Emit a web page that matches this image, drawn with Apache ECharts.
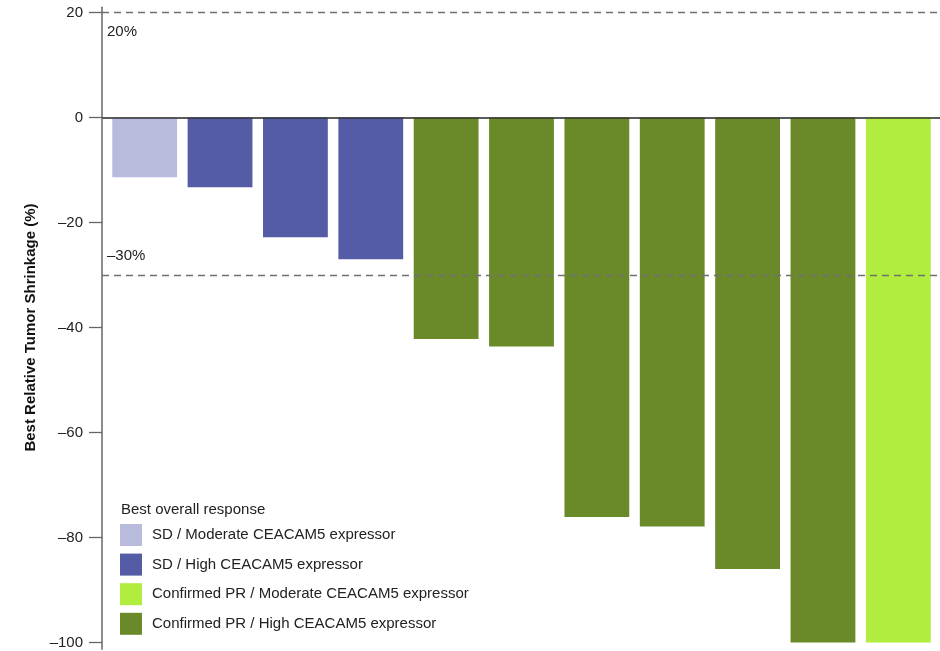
<!DOCTYPE html>
<html>
<head>
<meta charset="utf-8">
<style>
  html, body { margin: 0; padding: 0; background: #ffffff; }
  #chart { width: 940px; height: 651px; }
</style>
<script src="https://cdn.jsdelivr.net/npm/echarts@6/dist/echarts.min.js"></script>
</head>
<body>
<div id="chart"></div>
<script>
// Waterfall of best relative tumour shrinkage, one bar per patient
const patients = ['1', '2', '3', '4', '5', '6', '7', '8', '9', '10', '11'];

const groupNames = [
  'SD / Moderate CEACAM5 expressor',
  'SD / High CEACAM5 expressor',
  'Confirmed PR / Moderate CEACAM5 expressor',
  'Confirmed PR / High CEACAM5 expressor'
];
const groupColors = ['#b8bbdb', '#535ca4', '#b1ed3f', '#6a8a29'];

// best change from baseline (%) per patient and its response group index
const shrinkage = [-11.4, -13.3, -22.8, -27.0, -42.2, -43.6, -76.1, -77.9, -86.0, -100, -100];
const groupOf   = [0, 1, 1, 1, 3, 3, 3, 3, 3, 3, 2];

const yTicks = [-100, -80, -60, -40, -20, 0, 20];
const refLines = [
  { value: 20, text: '20%', pos: 'insideStartBottom' },
  { value: -30, text: '–30%', pos: 'insideStartTop' }
];

const FONT = '"Liberation Sans", Arial, sans-serif';
const dash = s => String(s).replace('-', '–');

// 5.25 px per percentage point in both grids
const PX = 5.25;
const TOP = 12.5;
const yMin = yTicks[0], yMax = yTicks[yTicks.length - 1];
const frameMax = 21, frameMin = -101.3;

const series = groupNames.map((name, g) => ({
  name: name,
  type: 'bar',
  stack: 'all',
  xAxisIndex: 0,
  yAxisIndex: 0,
  barWidth: '86%',
  itemStyle: { color: groupColors[g] },
  data: shrinkage.map((v, i) => (groupOf[i] === g ? v : '-'))
}));

// frame, zero line and dashed thresholds drawn in the outer grid
series.push({
  type: 'line',
  xAxisIndex: 1,
  yAxisIndex: 1,
  data: [],
  silent: true,
  markLine: {
    symbol: 'none',
    silent: true,
    data: [
      { yAxis: 0, lineStyle: { type: 'solid', color: '#333', width: 1.5 }, label: { show: false } }
    ].concat(refLines.map(r => ({
      yAxis: r.value,
      lineStyle: { type: [7, 5], color: '#6f6f6f', width: 1.3 },
      label: {
        show: true, position: r.pos, formatter: r.text, distance: [5, 12],
        color: '#222', fontSize: 15, fontFamily: FONT
      }
    })))
  }
});

const chart = echarts.init(document.getElementById('chart'), null, { renderer: 'canvas' });
chart.setOption({
  animation: false,
  backgroundColor: '#ffffff',
  textStyle: { fontFamily: FONT },
  grid: [
    { left: 107, right: 4, top: TOP, height: (yMax - yMin) * PX },
    { left: 102, right: 0, top: TOP - (frameMax - yMax) * PX, height: (frameMax - frameMin) * PX }
  ],
  xAxis: [
    { type: 'category', gridIndex: 0, data: patients, show: false },
    {
      type: 'value', gridIndex: 1, min: 0, max: 1, position: 'bottom',
      axisLine: { show: true, lineStyle: { color: '#bdbdbd', width: 1.5 } },
      axisTick: { show: false }, axisLabel: { show: false }, splitLine: { show: false }
    }
  ],
  yAxis: [
    {
      type: 'value', gridIndex: 0, min: yMin, max: yMax, interval: 20, offset: 5,
      name: 'Best Relative Tumor Shrinkage (%)',
      nameLocation: 'middle', nameGap: 60,
      nameTextStyle: { fontSize: 15, fontWeight: 'bold', color: '#111', fontFamily: FONT },
      axisLine: { show: false },
      axisTick: { show: true, length: 13, lineStyle: { color: '#666', width: 1.3 } },
      axisLabel: { margin: 19, fontSize: 15, color: '#222', fontFamily: FONT, formatter: v => dash(v) },
      splitLine: { show: false }
    },
    {
      type: 'value', gridIndex: 1, min: frameMin, max: frameMax,
      axisLine: { show: true, lineStyle: { color: '#666', width: 1.5 } },
      axisTick: { show: false }, axisLabel: { show: false }, splitLine: { show: false }
    }
  ],
  title: {
    text: 'Best overall response',
    left: 116, top: 497,
    textStyle: { fontSize: 15, fontWeight: 'normal', color: '#222', fontFamily: FONT }
  },
  legend: {
    orient: 'vertical',
    left: 120, top: 524,
    itemWidth: 22, itemHeight: 22, itemGap: 7.6,
    icon: 'rect',
    padding: 0,
    data: groupNames,
    textStyle: { fontSize: 15, color: '#222', fontFamily: FONT, padding: [0, 0, 0, 5] }
  },
  series: series
});
</script>
</body>
</html>
